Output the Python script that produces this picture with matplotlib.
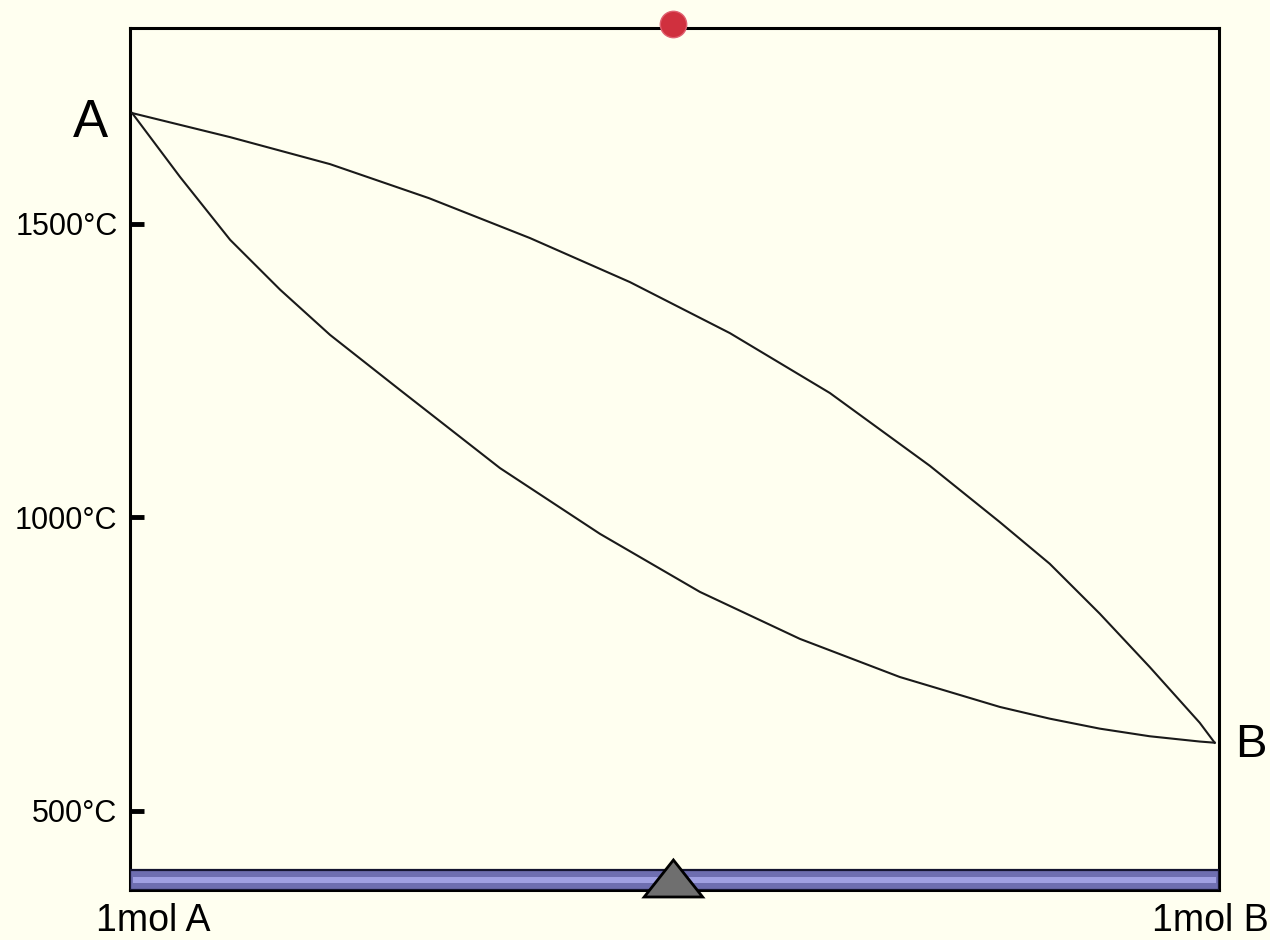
import matplotlib.pyplot as plt
import matplotlib.patches as patches
import numpy as np

# composition (fraction of B) and temperatures
liq_x = [0.0, 0.0905, 0.1828, 0.2742, 0.3675, 0.4598, 0.5522, 0.6445, 0.7368, 0.8015, 0.8476, 0.8938, 0.9400, 0.9862, 1.0]
liq_t = [1689, 1648, 1602, 1544, 1476, 1401, 1314, 1212, 1088, 992, 921, 836, 745, 650, 616]

sol_x = [0.0, 0.0443, 0.0905, 0.1367, 0.1828, 0.2475, 0.3398, 0.4321, 0.5245, 0.6168, 0.7091, 0.8015, 0.8476, 0.8938, 0.9400, 0.9862, 1.0]
sol_t = [1689, 1580, 1473, 1388, 1311, 1217, 1084, 972, 873, 793, 728, 677, 657, 640, 627, 618, 616]

yticks = [500, 1000, 1500]
ytick_labels = ['500°C', '1000°C', '1500°C']

slider_x = 0.5      # composition slider
temp_dot_t = 1841   # temperature marker

bg = '#fffff0'
plt.rcParams['font.family'] = ['Liberation Sans', 'DejaVu Sans']

fig = plt.figure(figsize=(12.7, 9.4), dpi=100, facecolor=bg)
ax = fig.add_axes([130 / 1270, 1 - 890 / 940, (1219 - 130) / 1270, (890 - 28) / 940])
ax.set_facecolor(bg)
ax.set_xlim(-0.002, 1.004)
ax.set_ylim(365, 1834)

for s in ax.spines.values():
    s.set_linewidth(2.2)
    s.set_color('black')

# liquidus / solidus
ax.plot(liq_x, liq_t, color='#1a1a1a', lw=1.5, zorder=3, solid_joinstyle='round')
ax.plot(sol_x, sol_t, color='#1a1a1a', lw=1.5, zorder=3, solid_joinstyle='round')

# ticks
ax.set_xticks([])
ax.set_yticks(yticks)
ax.set_yticklabels(ytick_labels, fontsize=22)
ax.tick_params(axis='y', direction='in', length=10, width=3.5, pad=9, colors='black')

# end point labels
ax.annotate('A', (0, liq_t[0]), xytext=(-30, -7), textcoords='offset points',
            fontsize=38, ha='center', va='center', annotation_clip=False)
ax.annotate('B', (1, liq_t[-1]), xytext=(26, -2), textcoords='offset points',
            fontsize=34, ha='center', va='center', annotation_clip=False)

fig.text(153 / 1270, 1 - 921 / 940, '1mol A', fontsize=27, ha='center', va='center')
fig.text(1269 / 1270, 1 - 921 / 940, '1mol B', fontsize=27, ha='right', va='center')

# slider bar at bottom
bar_h = 20 / 862
ax.add_patch(patches.Rectangle((0, 0), 1, bar_h, transform=ax.transAxes,
                               facecolor='#6e6eb0', edgecolor='#151530', lw=1.6, zorder=4))
ax.add_patch(patches.Rectangle((0.003, bar_h * 0.33), 0.994, bar_h * 0.34, transform=ax.transAxes,
                               facecolor='#a0a0e2', edgecolor='none', zorder=5))

# slider triangle
tri = patches.Polygon([[slider_x - 0.027, -7 / 862], [slider_x + 0.027, -7 / 862], [slider_x, 30 / 862]],
                      closed=True, transform=ax.get_xaxis_transform(), facecolor='#6f6f6f',
                      edgecolor='black', lw=2, zorder=6, clip_on=False)
ax.add_patch(tri)

# temperature marker
ax.plot([slider_x], [temp_dot_t], 'o', ms=19, color='#d0303e', mec='#e06070', mew=1,
        clip_on=False, zorder=7)

plt.savefig('out.png', dpi=100, facecolor=bg)
plt.close()
